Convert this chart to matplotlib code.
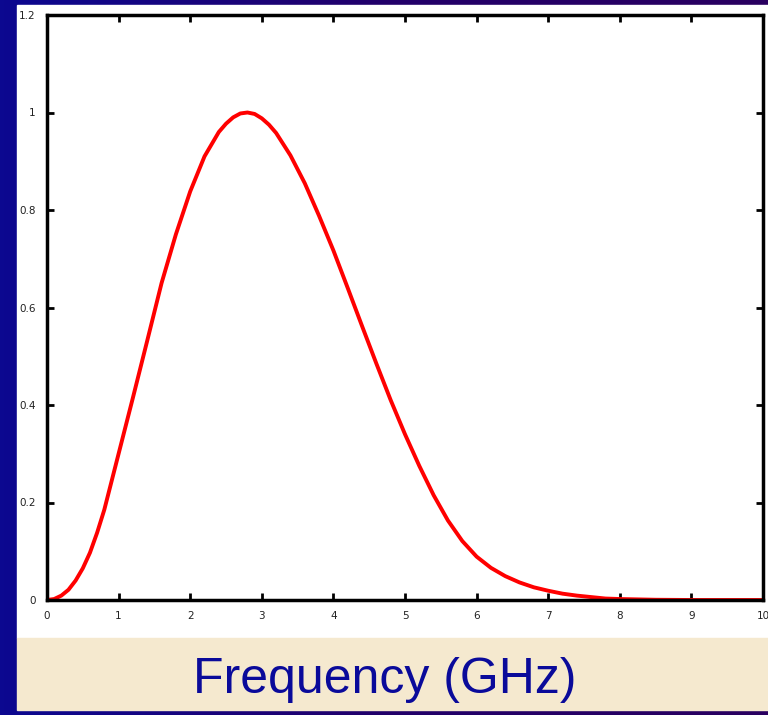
import matplotlib
matplotlib.use('Agg')
import matplotlib.pyplot as plt
import numpy as np
from matplotlib.colors import LinearSegmentedColormap

# values
freq = [0.0, 0.1, 0.2, 0.3, 0.4, 0.5, 0.6, 0.7, 0.8, 1.0, 1.2, 1.4, 1.6, 1.8,
        2.0, 2.2, 2.4, 2.5, 2.6, 2.7, 2.8, 2.9, 3.0, 3.1, 3.2, 3.4, 3.6, 3.8,
        4.0, 4.2, 4.4, 4.6, 4.8, 5.0, 5.2, 5.4, 5.6, 5.8, 6.0, 6.2, 6.4, 6.6,
        6.8, 7.0, 7.2, 7.4, 7.6, 7.8, 8.0, 8.5, 9.0, 10.0]
amp = [0.0, 0.002, 0.009, 0.021, 0.040, 0.065, 0.097, 0.138, 0.185, 0.300,
       0.415, 0.532, 0.650, 0.750, 0.838, 0.910, 0.960, 0.977, 0.990, 0.998,
       1.000, 0.997, 0.988, 0.975, 0.958, 0.912, 0.855, 0.788, 0.717, 0.640,
       0.562, 0.485, 0.410, 0.340, 0.275, 0.215, 0.163, 0.121, 0.089, 0.066,
       0.049, 0.036, 0.026, 0.019, 0.013, 0.009, 0.006, 0.003, 0.002, 0.0005,
       0.0, 0.0]
xticks = list(range(0, 11))
yticks = [0, 0.2, 0.4, 0.6, 0.8, 1, 1.2]
ytick_labels = ['0', '0.2', '0.4', '0.6', '0.8', '1', '1.2']

fig = plt.figure(figsize=(7.68, 7.15), dpi=100)

# slide background gradient
bg = fig.add_axes([0, 0, 1, 1])
grad = np.linspace(0, 1, 256).reshape(1, -1)
cmap = LinearSegmentedColormap.from_list('slide', ['#0c0890', '#22006a', '#2a0060'])
bg.imshow(grad, aspect='auto', cmap=cmap, extent=[0, 1, 0, 1])
bg.set_axis_off()

# white panel and beige caption box
bg.add_patch(plt.Rectangle((17/768, 1-638/715), 751/768, 633/715, color='white'))
bg.add_patch(plt.Rectangle((17/768, 1-710/715), 751/768, 72/715, color='#f5e9cf'))
bg.set_xlim(0, 1)
bg.set_ylim(0, 1)

ax = fig.add_axes([47/768, 1-600/715, 716/768, 585/715])
ax.plot(freq, amp, color='red', linewidth=2.8, solid_joinstyle='round')
ax.set_xlim(0, 10)
ax.set_ylim(0, 1.2)
ax.set_xticks(xticks)
ax.set_yticks(yticks)
ax.set_yticklabels(ytick_labels)
ax.tick_params(direction='in', length=5, width=2, labelsize=7.5,
               labelcolor='#222222', top=True, right=True, pad=8)
for s in ax.spines.values():
    s.set_linewidth(2.5)

fig.text(385/768, 1-680/715, 'Frequency (GHz)', ha='center', va='center',
         fontsize=36, color='#0a0a9a', family='Liberation Sans')

plt.savefig('out.png', dpi=100)
